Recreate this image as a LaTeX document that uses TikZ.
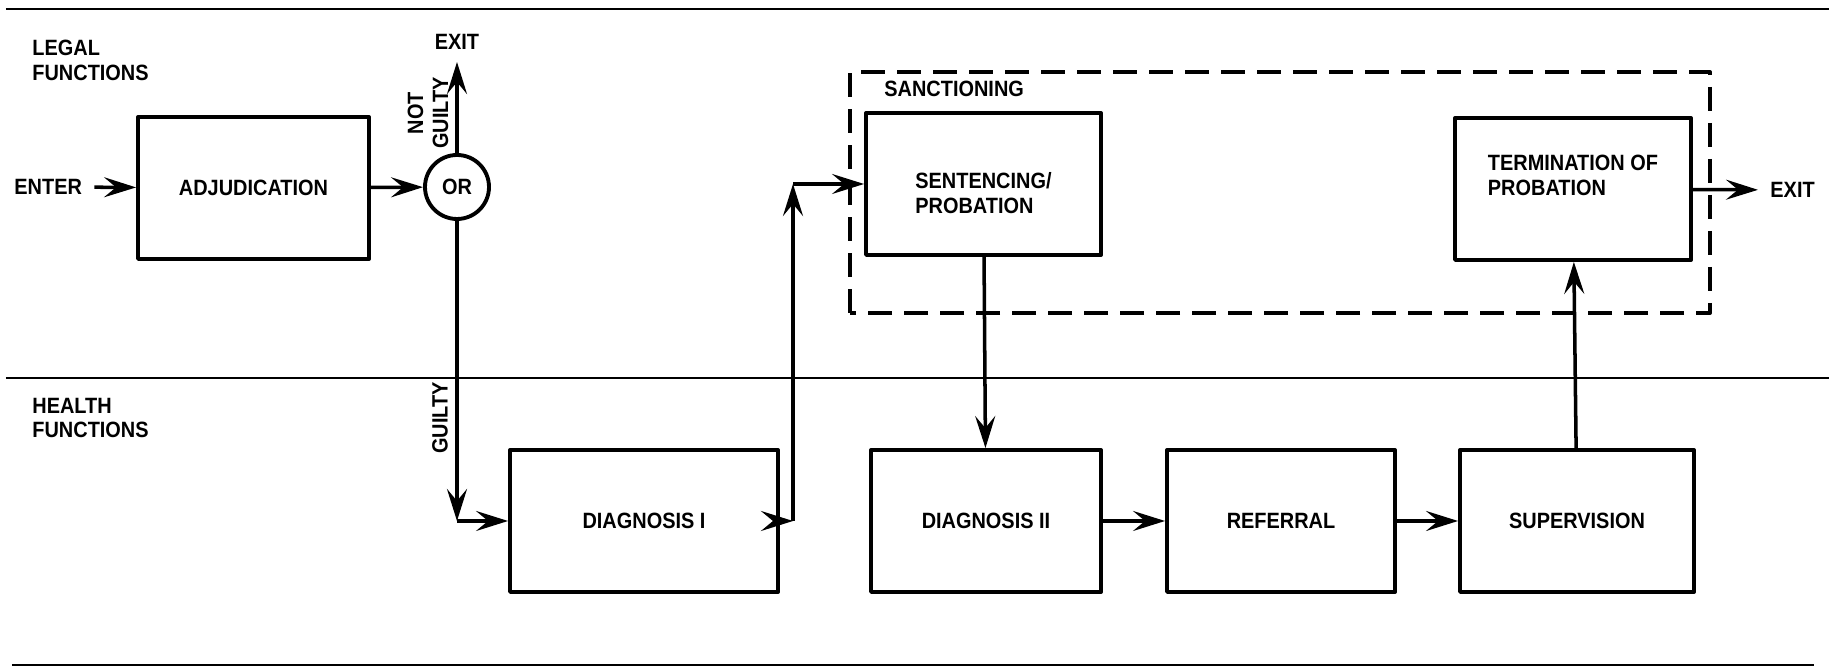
\documentclass[tikz,border=0pt]{standalone}
\usepackage{fontspec}
\setmainfont{Liberation Sans}[FakeStretch=0.9]
\usetikzlibrary{arrows.meta}
\begin{document}
\begin{tikzpicture}[line join=round,
    font=\fontsize{6.3}{7.1}\selectfont\bfseries,
    box/.style={draw, line width=1.1pt, minimum height=1.42cm, inner sep=2pt},
    flow/.style={line width=1pt, -{Stealth[length=3.2mm,width=2mm,inset=1.2mm]}},
    rule/.style={line width=0.6pt},
    group/.style={draw, line width=1.1pt, dash pattern=on 2.4mm off 1.2mm}]
  \useasboundingbox (0,0) rectangle (18.29,6.70);
  % lanes
  \draw[rule] (0.06,6.61) -- (18.29,6.61);
  \draw[rule] (0.06,2.92) -- (18.29,2.92);
  \draw[rule] (0.12,0.05) -- (18.14,0.05);
  \node[anchor=west, align=left] (legal) at (0.20,6.10) {LEGAL\\FUNCTIONS};
  \node[anchor=west, align=left] (health) at (0.20,2.52) {HEALTH\\FUNCTIONS};
  % sanctioning group
  \draw[group] (8.50,3.57) rectangle (17.10,5.98);
  \node[anchor=west] (sanct) at (8.72,5.81) {SANCTIONING};
  % legal row
  \node[anchor=west] (enter) at (0.02,4.83) {ENTER};
  \node[box, minimum width=2.31cm] (adj) at (2.535,4.82) {ADJUDICATION};
  \node[draw, circle, line width=1.1pt, minimum size=0.64cm, inner sep=0pt] (or) at (4.57,4.83) {OR};
  \node (exitup) at (4.57,6.28) {EXIT};
  \node[rotate=90, align=center] (notg) at (4.28,5.57) {NOT\\GUILTY};
  \node[box, minimum width=2.35cm] (sent) at (9.835,4.86) {};
  \node[align=left] (sentxt) at ([yshift=-0.9mm]sent) {SENTENCING/\\PROBATION};
  \node[box, minimum width=2.36cm] (term) at (15.73,4.81) {};
  \node[align=left] (termtxt) at ([yshift=1.4mm]term) {TERMINATION OF\\PROBATION};
  \node[anchor=west] (exitr) at (17.58,4.80) {EXIT};
  % health row
  \node[box, minimum width=2.68cm] (d1) at (6.44,1.49) {DIAGNOSIS I};
  \node[box, minimum width=2.30cm] (d2) at (9.86,1.49) {DIAGNOSIS II};
  \node[box, minimum width=2.28cm] (ref) at (12.81,1.49) {REFERRAL};
  \node[box, minimum width=2.34cm] (sup) at (15.77,1.49) {SUPERVISION};
  \node[rotate=90] (guilty) at (4.40,2.52) {GUILTY};
  \coordinate (gturn) at (or |- d1);
  \coordinate (dturn) at (7.93,1.49);
  \coordinate (sturn) at (dturn |- sent);
  % connectors
  \draw[flow] (enter) -- (adj);
  \draw[flow] (adj) -- (or);
  \draw[flow] (or) -- (exitup);
  \draw[flow] (or) -- (gturn);
  \draw[flow] (gturn) -- (d1);
  \draw[flow] (d1) -- (dturn);
  \draw[flow] (dturn) -- (sturn);
  \draw[flow] (sturn) -- (sent);
  \draw[flow] (sent) -- (d2);
  \draw[flow] (d2) -- (ref);
  \draw[flow] (ref) -- (sup);
  \draw[flow] (sup) -- (term);
  \draw[flow] (term) -- (exitr);
\end{tikzpicture}
\end{document}
